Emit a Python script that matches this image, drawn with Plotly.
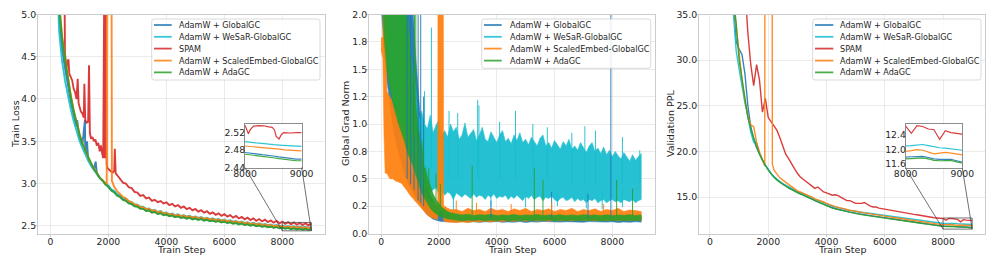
import plotly.graph_objects as go

# ---------------------------------------------------------------- data
series_names = ["AdamW + GlobalGC", "AdamW + WeSaR-GlobalGC", "SPAM",
                "AdamW + ScaledEmbed-GlobalGC", "AdamW + AdaGC"]
colors = ["#1f77b4", "#17becf", "#d62728", "#ff7f0e", "#2ca02c"]
x_tick_vals = [0, 2000, 4000, 6000, 8000]
loss_tick_vals = [2.5, 3.0, 3.5, 4.0, 4.5, 5.0]
gn_tick_vals = [0.0, 0.25, 0.5, 0.75, 1.0, 1.25, 1.5, 1.75, 2.0]
gn_tick_text = ["0.0", "0.2", "0.5", "0.8", "1.0", "1.2", "1.5", "1.8", "2.0"]
ppl_tick_vals = [15.0, 20.0, 25.0, 30.0, 35.0]
loss_inset_ticks = [2.44, 2.48, 2.52]
ppl_inset_ticks = [11.6, 12.0, 12.4]
inset_x_ticks = [8000, 9000]

# ---- train loss
loss_steps = list(range(0, 9100, 100))
green_loss = [10.9, 8.0, 6.2, 5.1, 4.72, 4.48, 4.24, 4.03, 3.86, 3.70,
              3.58, 3.47, 3.39, 3.30, 3.24, 3.17, 3.125, 3.065, 3.035, 2.985,
              2.965, 2.915, 2.895, 2.855, 2.84, 2.805, 2.795, 2.765, 2.755, 2.73,
              2.725, 2.70, 2.70, 2.675, 2.68, 2.655, 2.662, 2.638, 2.648, 2.625,
              2.632, 2.612, 2.62, 2.60, 2.61, 2.592, 2.60, 2.584, 2.593, 2.575,
              2.585, 2.568, 2.578, 2.56, 2.57, 2.553, 2.562, 2.546, 2.555, 2.538,
              2.548, 2.531, 2.54, 2.524, 2.532, 2.516, 2.525, 2.508, 2.517, 2.50,
              2.51, 2.494, 2.503, 2.487, 2.496, 2.481, 2.489, 2.475, 2.483, 2.469,
              2.477, 2.464, 2.472, 2.459, 2.468, 2.456, 2.465, 2.452, 2.461, 2.449,
              2.458]
cyan_loss = [10.9, 7.6, 5.7, 4.8, 4.45, 4.22, 4.04, 3.88, 3.74, 3.62,
             3.51, 3.42, 3.34, 3.27, 3.21, 3.155, 3.11, 3.065, 3.035, 2.995,
             2.975, 2.93, 2.91, 2.875, 2.86, 2.83, 2.82, 2.79, 2.78, 2.755,
             2.75, 2.725, 2.725, 2.70, 2.705, 2.68, 2.687, 2.663, 2.673, 2.65,
             2.657, 2.637, 2.645, 2.625, 2.635, 2.617, 2.625, 2.609, 2.618, 2.60,
             2.61, 2.593, 2.603, 2.585, 2.595, 2.578, 2.587, 2.571, 2.58, 2.563,
             2.573, 2.556, 2.565, 2.549, 2.557, 2.541, 2.55, 2.533, 2.542, 2.525,
             2.535, 2.519, 2.528, 2.512, 2.521, 2.506, 2.514, 2.50, 2.508, 2.494,
             2.502, 2.49, 2.498, 2.486, 2.494, 2.483, 2.491, 2.479, 2.488, 2.477,
             2.485]
blue_loss_steps = [0, 100, 200, 300, 400, 500, 600, 700, 800, 900, 920, 1000, 1100,
                   1190, 1200, 1260, 1300, 1400, 1500, 1560, 1600] + list(range(1700, 9100, 100))
blue_loss = [10.9, 7.8, 5.9, 4.95, 4.6, 4.37, 4.15, 3.97, 3.81, 3.67, 3.75, 3.55, 3.45,
             3.75, 3.37, 3.5, 3.29, 3.22, 3.165, 3.26, 3.12,
             3.07, 3.035, 2.99, 2.965, 2.92, 2.9, 2.86, 2.845, 2.81, 2.80,
             2.77, 2.76, 2.735, 2.73, 2.705, 2.705, 2.68, 2.685, 2.66, 2.667,
             2.643, 2.653, 2.63, 2.637, 2.617, 2.625, 2.605, 2.615, 2.597, 2.605,
             2.589, 2.598, 2.58, 2.59, 2.573, 2.583, 2.565, 2.575, 2.558, 2.567,
             2.551, 2.56, 2.543, 2.553, 2.536, 2.545, 2.529, 2.537, 2.521, 2.53,
             2.513, 2.522, 2.505, 2.515, 2.499, 2.508, 2.492, 2.501, 2.486, 2.494,
             2.48, 2.488, 2.474, 2.482, 2.469, 2.477, 2.464, 2.473, 2.461, 2.47,
             2.457, 2.466, 2.454, 2.463]
orange_loss_steps = list(range(0, 2000, 100)) + [1940, 1960, 2100, 2120] + list(range(2200, 9100, 100))
orange_loss = [10.9, 8.1, 6.3, 5.15, 4.75, 4.5, 4.26, 4.05, 3.87, 3.71,
               3.59, 3.48, 3.39, 3.31, 3.24, 3.175, 3.125, 3.07, 3.04, 2.995,
               2.985, 7.0, 7.0, 3.03,
               2.96, 2.91, 2.88, 2.84, 2.825, 2.79, 2.778, 2.75,
               2.745, 2.72, 2.72, 2.695, 2.70, 2.675, 2.682, 2.658, 2.668, 2.645,
               2.652, 2.632, 2.64, 2.62, 2.63, 2.612, 2.62, 2.604, 2.613, 2.595,
               2.605, 2.588, 2.598, 2.58, 2.59, 2.573, 2.582, 2.566, 2.575, 2.558,
               2.568, 2.551, 2.56, 2.544, 2.552, 2.536, 2.545, 2.528, 2.537, 2.52,
               2.53, 2.514, 2.523, 2.507, 2.516, 2.501, 2.509, 2.495, 2.503, 2.489,
               2.497, 2.484, 2.492, 2.479, 2.488, 2.476, 2.485, 2.472, 2.481, 2.47,
               2.478]
red_loss_steps = [0, 100, 200, 300, 400, 430, 470, 500, 550, 600, 620, 650, 700, 750, 800,
                  850, 900, 940, 970, 1000, 1050, 1100, 1150, 1170, 1200, 1250, 1300, 1330,
                  1360, 1400, 1450, 1500, 1550, 1600, 1650, 1700, 1740, 1780, 1820, 1860,
                  1880, 1910, 1940, 1970, 2000, 2050, 2100, 2150, 2200, 2220, 2250, 2300] \
                 + list(range(2400, 9100, 100))
red_loss = [10.9, 8.5, 7.0, 6.0, 5.4, 5.6, 6.2, 4.55, 4.37, 4.45, 4.47, 4.3, 4.25, 4.22, 4.12,
            4.08, 4.0, 4.24, 3.95, 3.9, 3.85, 3.83, 3.78, 4.18, 3.75, 3.72, 3.73, 4.40,
            3.6, 3.53, 3.55, 3.5, 3.52, 3.45, 3.48, 3.38, 3.45, 3.36, 3.3, 5.6,
            3.3, 5.6, 3.22, 3.18, 3.17, 3.15, 3.14, 3.13, 3.15, 3.41, 3.12, 3.10,
            3.06, 3.01, 3.0, 2.955, 2.945, 2.90,
            2.892, 2.853, 2.862, 2.823, 2.832, 2.793, 2.807, 2.778, 2.792, 2.763,
            2.777, 2.745, 2.76, 2.728, 2.744, 2.712, 2.728, 2.696, 2.712, 2.681,
            2.698, 2.667, 2.684, 2.654, 2.672, 2.641, 2.659, 2.629, 2.647, 2.618,
            2.637, 2.607, 2.626, 2.596, 2.615, 2.586, 2.605, 2.576, 2.595, 2.567,
            2.587, 2.559, 2.579, 2.551, 2.571, 2.543, 2.563, 2.536, 2.556, 2.528,
            2.549, 2.522, 2.543, 2.516, 2.538, 2.512, 2.534, 2.508, 2.53, 2.505,
            2.528]

# smoothed curves shown in the loss inset
inset_steps = [8000, 8100, 8200, 8300, 8400, 8500, 8600, 8700, 8800, 8900, 9000]
inset_blue_loss = [2.474, 2.473, 2.471, 2.469, 2.468, 2.466, 2.464, 2.462, 2.461, 2.459, 2.459]
inset_cyan_loss = [2.499, 2.497, 2.496, 2.495, 2.493, 2.492, 2.491, 2.49, 2.489, 2.488, 2.488]
inset_orange_loss = [2.489, 2.488, 2.487, 2.486, 2.485, 2.483, 2.482, 2.48, 2.479, 2.478, 2.478]
inset_green_loss = [2.470, 2.469, 2.467, 2.465, 2.464, 2.462, 2.46, 2.458, 2.457, 2.455, 2.455]
inset_red_steps = [8000, 8030, 8060, 8090, 8150, 8240, 8330, 8420, 8480, 8520, 8550, 8600,
                   8640, 8680, 8800, 8920, 9000]
inset_red_loss = [2.537, 2.526, 2.517, 2.526, 2.535, 2.536, 2.5356, 2.533, 2.532, 2.526,
                  2.511, 2.505, 2.515, 2.52, 2.519, 2.52, 2.52]

# ---- global grad norm (noise envelopes: lower / upper) + isolated spikes
gn_steps = list(range(0, 2500, 100)) + list(range(2600, 9200, 200))
blue_gn_lo = [2.1, 1.7, 1.4, 1.2, 1.0, 0.85, 0.75, 0.65, 0.55, 0.48, 0.42, 0.38, 0.33,
              0.28, 0.24, 0.2, 0.17, 0.15, 0.13, 0.12, 0.115, 0.11, 0.108, 0.105, 0.105,
              0.104, 0.11, 0.103, 0.108, 0.102, 0.107, 0.104, 0.11, 0.102, 0.106, 0.103,
              0.109, 0.101, 0.107, 0.104, 0.11, 0.102, 0.106, 0.104, 0.108, 0.101, 0.105,
              0.103, 0.109, 0.102, 0.106, 0.104, 0.108, 0.101, 0.106, 0.103, 0.107, 0.104]
blue_gn_hi = [3.0, 3.0, 3.0, 3.0, 3.0, 3.0, 3.0, 3.0, 2.6, 2.4, 2.2, 2.0, 1.6,
              1.2, 0.9, 0.6, 0.45, 0.35, 0.3, 0.25, 0.22, 0.2, 0.18, 0.17, 0.16,
              0.15, 0.145, 0.15, 0.148, 0.152, 0.146, 0.15, 0.147, 0.151, 0.145, 0.15,
              0.148, 0.152, 0.146, 0.15, 0.147, 0.151, 0.145, 0.15, 0.148, 0.152, 0.146,
              0.15, 0.147, 0.151, 0.145, 0.15, 0.148, 0.152, 0.146, 0.15, 0.147, 0.15]
green_gn_lo = [2.5, 1.8, 1.5, 1.35, 1.2, 1.1, 1.0, 0.92, 0.85, 0.75, 0.68, 0.62, 0.55,
               0.45, 0.37, 0.32, 0.27, 0.23, 0.2, 0.18, 0.16, 0.15, 0.14, 0.135, 0.13,
               0.12, 0.115, 0.122, 0.118, 0.124, 0.116, 0.121, 0.117, 0.123, 0.115, 0.12,
               0.117, 0.122, 0.116, 0.121, 0.118, 0.123, 0.115, 0.12, 0.117, 0.122, 0.116,
               0.121, 0.118, 0.122, 0.115, 0.12, 0.117, 0.122, 0.116, 0.12, 0.118, 0.121]
green_gn_hi = [3.0, 3.0, 3.0, 3.0, 3.0, 3.0, 3.0, 2.6, 2.3, 2.0, 1.7, 1.4, 1.15,
               0.95, 0.78, 0.64, 0.52, 0.43, 0.36, 0.31, 0.27, 0.24, 0.22, 0.2, 0.19,
               0.18, 0.17, 0.175, 0.165, 0.172, 0.168, 0.175, 0.165, 0.17, 0.166, 0.174,
               0.164, 0.17, 0.167, 0.173, 0.165, 0.17, 0.166, 0.172, 0.164, 0.17, 0.165,
               0.172, 0.166, 0.17, 0.164, 0.171, 0.165, 0.17, 0.166, 0.172, 0.165, 0.17]
cyan_gn_steps = list(range(0, 9100, 100))
cyan_gn_lo = [2.2, 1.9, 1.6, 1.4, 1.25, 1.1, 1.0, 0.9, 0.8, 0.7, 0.62, 0.55,
              0.5, 0.45, 0.43, 0.41, 0.44, 0.38, 0.4, 0.42, 0.36, 0.39,
              0.35, 0.38, 0.36, 0.31, 0.37, 0.35, 0.33, 0.36, 0.34, 0.32,
              0.36, 0.33, 0.35, 0.34, 0.31, 0.35, 0.33, 0.36, 0.32, 0.34,
              0.33, 0.35, 0.31, 0.34, 0.32, 0.35, 0.33, 0.3, 0.34, 0.32,
              0.35, 0.31, 0.33, 0.34, 0.3, 0.33, 0.32, 0.34, 0.31, 0.29,
              0.32, 0.33, 0.3, 0.31, 0.33, 0.29, 0.32, 0.3, 0.31, 0.28,
              0.31, 0.3, 0.32, 0.28, 0.3, 0.31, 0.28, 0.3, 0.31, 0.29,
              0.3, 0.28, 0.31, 0.3, 0.29, 0.31, 0.28, 0.3, 0.31]
cyan_gn_hi = [3.0, 3.0, 3.0, 3.0, 3.0, 3.0, 3.0, 3.0, 2.5, 2.0, 1.7, 1.45,
              1.35, 1.02, 1.12, 1.0, 0.96, 1.08, 0.92, 0.99, 1.04, 0.9,
              0.94, 0.88, 1.0, 0.93, 0.97, 0.86, 0.9, 1.01, 0.88, 0.92,
              0.95, 0.85, 0.9, 0.97, 0.86, 0.84, 0.93, 0.88, 0.83, 0.9,
              0.94, 0.84, 0.87, 0.82, 0.9, 0.85, 0.92, 0.83, 0.86, 0.81,
              0.88, 0.84, 0.8, 0.87, 0.9, 0.8, 0.83, 0.78, 0.85, 0.81,
              0.77, 0.84, 0.8, 0.86, 0.77, 0.8, 0.76, 0.83, 0.79, 0.74,
              0.8, 0.83, 0.75, 0.78, 0.73, 0.79, 0.72, 0.76, 0.7, 0.75,
              0.71, 0.68, 0.74, 0.7, 0.66, 0.72, 0.67, 0.7, 0.73]
orange_gn_steps = [0, 60, 100, 140] + list(range(200, 2000, 100)) \
                  + [1960, 1970, 2150, 2160, 2200, 2300, 2400] + list(range(2600, 9200, 200))
orange_gn_lo = [1.68, 1.6, 0.9, 0.55, 0.55, 0.5, 0.5, 0.48, 0.47, 0.46, 0.43, 0.39, 0.35,
                0.32, 0.28, 0.25, 0.22, 0.2, 0.17, 0.15, 0.14, 0.13,
                0.13, 0.2, 0.2, 0.12, 0.11, 0.105, 0.1,
                0.1, 0.105, 0.1, 0.11, 0.104, 0.112, 0.106, 0.115, 0.108, 0.116, 0.11,
                0.118, 0.112, 0.12, 0.113, 0.119, 0.112, 0.12, 0.114, 0.121, 0.115, 0.122,
                0.116, 0.121, 0.115, 0.122, 0.117, 0.123, 0.116, 0.122, 0.117, 0.123, 0.118]
orange_gn_hi = [1.78, 1.8, 3.0, 3.0, 1.3, 1.25, 1.2, 1.12, 1.05, 1.0, 0.92, 0.85, 0.76,
                0.68, 0.58, 0.5, 0.44, 0.38, 0.33, 0.3, 0.28, 0.26,
                0.26, 3.0, 3.0, 0.25, 0.25, 0.23, 0.22,
                0.22, 0.2, 0.23, 0.21, 0.22, 0.2, 0.23, 0.21, 0.22, 0.2, 0.225,
                0.21, 0.23, 0.2, 0.22, 0.21, 0.225, 0.2, 0.22, 0.21, 0.23, 0.2,
                0.22, 0.21, 0.225, 0.2, 0.22, 0.21, 0.23, 0.2, 0.215, 0.21, 0.2]
blue_spike_steps = [900, 1020, 1140, 1280, 1370, 1470, 3800, 5900, 7160, 7950]
blue_spike_lo = [0.5, 0.45, 0.4, 0.3, 0.28, 0.25, 0.14, 0.14, 0.14, 0.15]
blue_spike_hi = [2.1, 2.1, 2.1, 2.1, 2.1, 1.25, 0.3, 0.38, 0.36, 2.1]
cyan_spike_steps = [1500, 1740, 2350, 2650, 3340, 3385, 4100, 4650, 5250, 5750, 6600, 7050,
                    7420, 8350, 8950, 2500, 3800, 5000, 6100, 7100, 7650, 8350]
cyan_spike_lo = [0.6, 0.6, 0.5, 0.5, 0.5, 0.5, 0.5, 0.5, 0.5, 0.5, 0.45, 0.45,
                 0.45, 0.45, 0.45, 0.22, 0.25, 0.24, 0.25, 0.23, 0.22, 0.24]
cyan_spike_hi = [1.3, 1.88, 1.12, 1.1, 1.22, 1.17, 1.02, 1.12, 1.0, 0.97, 0.92, 0.98,
                 0.94, 0.88, 0.76, 0.4, 0.4, 0.4, 0.4, 0.4, 0.4, 0.4]
orange_spike_steps = [2600, 3300, 4500, 5900, 7700]
orange_spike_lo = [0.18, 0.18, 0.18, 0.18, 0.18]
orange_spike_hi = [0.3, 0.28, 0.27, 0.28, 0.27]
green_spike_steps = [1150, 1200, 1450, 1650, 1900, 2050, 3150, 5300, 5600, 8150, 8700]
green_spike_lo = [0.9, 0.9, 0.5, 0.4, 0.3, 0.25, 0.16, 0.16, 0.16, 0.16, 0.16]
green_spike_hi = [2.1, 2.1, 0.85, 0.6, 0.55, 0.45, 0.62, 0.6, 0.49, 0.49, 0.41]

# ---- validation perplexity
val_steps = list(range(100, 9100, 100))
green_ppl = [95, 70, 58, 50, 45, 41, 38.5, 37.0, 34.0, 30.0,
             27.8, 25.4, 23.7, 22.5, 21.4, 20.5, 19.7, 19.0, 18.45, 17.95,
             17.5, 17.15, 16.85, 16.6, 16.38, 16.18, 15.98, 15.8, 15.62, 15.47,
             15.33, 15.2, 15.05, 14.9, 14.75, 14.55, 14.45, 14.32, 14.2, 14.05,
             13.92, 13.78, 13.7, 13.62, 13.52, 13.45, 13.38, 13.3, 13.25, 13.18,
             13.12, 13.07, 13.02, 12.97, 12.92, 12.87, 12.82, 12.78, 12.73, 12.68,
             12.63, 12.58, 12.54, 12.49, 12.45, 12.4, 12.36, 12.31, 12.27, 12.22,
             12.18, 12.13, 12.09, 12.05, 12.0, 11.96, 11.9, 11.85, 11.79, 11.74,
             11.75, 11.77, 11.77, 11.74, 11.70, 11.69, 11.70, 11.70, 11.66, 11.62]
blue_ppl = [95, 70, 58, 50, 45, 41, 38.5, 36.8, 32.0, 31.2,
            30.6, 28.5, 25.0, 22.7, 21.3, 20.4, 19.65, 19.05, 18.5, 18.0,
            17.55, 17.2, 16.9, 16.64, 16.42, 16.22, 16.02, 15.84, 15.66, 15.5,
            15.36, 15.23, 15.08, 14.93, 14.78, 14.6, 14.49, 14.36, 14.24, 14.09,
            13.96, 13.82, 13.74, 13.66, 13.56, 13.49, 13.42, 13.34, 13.29, 13.22,
            13.16, 13.11, 13.06, 13.01, 12.96, 12.91, 12.86, 12.82, 12.77, 12.72,
            12.67, 12.62, 12.58, 12.53, 12.49, 12.44, 12.4, 12.35, 12.31, 12.26,
            12.22, 12.17, 12.13, 12.09, 12.04, 12.0, 11.94, 11.89, 11.84, 11.79,
            11.8, 11.81, 11.81, 11.78, 11.74, 11.73, 11.74, 11.73, 11.69, 11.65]
cyan_ppl = [95, 68, 56, 48, 43, 39.5, 37.0, 35.2, 31.0, 29.0,
            27.0, 25.3, 23.9, 22.1, 21.0, 20.9, 19.8, 19.0, 18.5, 18.0,
            17.56, 17.22, 16.93, 16.69, 16.48, 16.29, 16.1, 15.93, 15.76, 15.62,
            15.48, 15.36, 15.21, 15.07, 14.92, 14.73, 14.64, 14.51, 14.4, 14.25,
            14.12, 13.99, 13.91, 13.83, 13.74, 13.68, 13.62, 13.54, 13.5, 13.43,
            13.38, 13.33, 13.28, 13.24, 13.2, 13.15, 13.11, 13.07, 13.02, 12.98,
            12.93, 12.88, 12.85, 12.8, 12.76, 12.72, 12.68, 12.63, 12.59, 12.55,
            12.51, 12.47, 12.43, 12.39, 12.35, 12.31, 12.26, 12.21, 12.15, 12.1,
            12.11, 12.13, 12.14, 12.11, 12.07, 12.05, 12.04, 12.02, 12.0, 11.98]
orange_ppl_steps = list(range(100, 1900, 100)) + [1880, 1890, 2130, 2140] + list(range(2200, 9100, 100))
orange_ppl = [95, 70, 58, 50, 45, 41, 38.5, 36.6, 33.6, 30.2,
              27.9, 25.6, 23.9, 22.9, 22.7, 21.0, 19.9, 19.1,
              18.4, 70, 70, 18.6,
              17.95, 17.5, 17.1, 16.85, 16.62, 16.35, 16.1, 15.88,
              15.68, 15.55, 15.42, 15.27, 15.12, 14.98, 14.8, 14.7, 14.57, 14.45,
              14.3, 14.17, 14.03, 13.95, 13.87, 13.77, 13.7, 13.63, 13.55, 13.5,
              13.42, 13.36, 13.31, 13.26, 13.21, 13.15, 13.1, 13.05, 13.0, 12.95,
              12.9, 12.85, 12.8, 12.76, 12.71, 12.67, 12.62, 12.58, 12.53, 12.49,
              12.44, 12.4, 12.35, 12.31, 12.27, 12.22, 12.18, 12.12, 12.07, 12.01,
              11.95, 11.97, 12.0, 11.98, 11.93, 11.88, 11.9, 11.92, 11.9, 11.87,
              11.85]
red_ppl = [140, 110, 95, 85, 77, 70, 64, 58, 52, 47,
           42.5, 38.0, 33.0, 29.5, 27.2, 29.5, 27.8, 24.3, 25.8, 23.7,
           23.2, 22.8, 22.3, 21.5, 20.6, 19.7, 19.2, 18.6, 18.1, 17.6,
           17.2, 16.95, 16.7, 16.5, 16.15, 15.95, 16.1, 15.8, 15.55, 15.45,
           15.3, 15.2, 15.25, 15.15, 14.95, 14.75, 14.6, 14.6, 14.45, 14.3,
           14.3, 14.3, 14.4, 14.15, 14.0, 13.9, 13.9, 13.78, 13.72, 13.65,
           13.6, 13.5, 13.52, 13.45, 13.38, 13.32, 13.27, 13.2, 13.14, 13.1,
           13.05, 12.98, 12.93, 12.87, 12.83, 12.78, 12.73, 12.7, 12.64, 12.65,
           12.45, 12.66, 12.64, 12.57, 12.55, 12.28, 12.52, 12.47, 12.44, 12.43]

# ---------------------------------------------------------------- layout geometry
# page body has an 8px margin, so the figure is placed 8px in from the window corner
OFF = 8
W, H = 996 - OFF, 266 - OFF
FONT = "DejaVu Sans"
TXT = "#262626"
FRAME = "#cccccc"
GRID = "#e6e6e6"


def px(x):
    return (x - OFF) / W


def py(y):
    return 1 - (y - OFF) / H


Y_DOM = [py(233.5), py(14.5)]
X_DOMS = [[px(38), px(324.5)], [px(369), px(654.5)], [px(699), px(985)]]
X_RANGES = [[-430, 9455], [-420, 9460], [-377, 9440]]
Y_RANGES = [[2.408, 5.0], [0.0, 2.0], [11.0, 35.0]]
INSET_DOMS = {
    "loss": ([px(245), px(301.7)], [py(167.5), py(124.3)]),
    "ppl": ([px(905.7), px(962.3)], [py(168.3), py(124.3)]),
}
INSET_YR = {"loss": [2.4395, 2.539], "ppl": [11.48, 12.70]}
INSET_XR = [8000, 9000]

tickfont = dict(family=FONT, size=9.3, color=TXT)

fig = go.Figure()


def line(x, y, color, ax, width=1.4, opacity=0.9):
    fig.add_trace(go.Scatter(x=x, y=y, mode="lines", xaxis=ax[0], yaxis=ax[1],
                             line=dict(color=color, width=width), opacity=opacity,
                             showlegend=False, hoverinfo="skip"))


def band(x, lo, hi, color, ax):
    fig.add_trace(go.Scatter(x=list(x) + list(x)[::-1], y=list(hi) + list(lo)[::-1],
                             mode="lines", fill="toself", fillcolor=color,
                             line=dict(color=color, width=0.6), opacity=0.92,
                             xaxis=ax[0], yaxis=ax[1], showlegend=False, hoverinfo="skip"))


def spikes(steps, lo, hi, color, ax):
    xs, ys = [], []
    for s, a, b in zip(steps, lo, hi):
        xs += [s, s, None]
        ys += [a, b, None]
    fig.add_trace(go.Scatter(x=xs, y=ys, mode="lines", line=dict(color=color, width=1.0),
                             opacity=0.9, xaxis=ax[0], yaxis=ax[1], showlegend=False,
                             hoverinfo="skip"))


# ---- panel 1: train loss (noisy raw curves -> slightly thicker strokes)
A1 = ("x", "y")
LW = 1.9
line(blue_loss_steps, blue_loss, colors[0], A1, width=LW)
line(loss_steps, cyan_loss, colors[1], A1, width=LW)
line(red_loss_steps, red_loss, colors[2], A1, width=LW)
line(orange_loss_steps, orange_loss, colors[3], A1, width=LW)
line(loss_steps, green_loss, colors[4], A1, width=LW)

# ---- panel 2: grad norm
A2 = ("x2", "y2")
band(gn_steps, blue_gn_lo, blue_gn_hi, colors[0], A2)
band(cyan_gn_steps, cyan_gn_lo, cyan_gn_hi, colors[1], A2)
band(orange_gn_steps, orange_gn_lo, orange_gn_hi, colors[3], A2)
band(gn_steps, green_gn_lo, green_gn_hi, colors[4], A2)
spikes(blue_spike_steps, blue_spike_lo, blue_spike_hi, colors[0], A2)
spikes(cyan_spike_steps, cyan_spike_lo, cyan_spike_hi, colors[1], A2)
spikes(orange_spike_steps, orange_spike_lo, orange_spike_hi, colors[3], A2)
spikes(green_spike_steps, green_spike_lo, green_spike_hi, colors[4], A2)

# ---- panel 3: validation ppl
A3 = ("x3", "y3")
line(val_steps, blue_ppl, colors[0], A3)
line(val_steps, cyan_ppl, colors[1], A3)
line(val_steps, red_ppl, colors[2], A3)
line(orange_ppl_steps, orange_ppl, colors[3], A3)
line(val_steps, green_ppl, colors[4], A3)

# ---- insets
A4 = ("x4", "y4")
line(inset_steps, inset_blue_loss, colors[0], A4, width=1.2)
line(inset_steps, inset_cyan_loss, colors[1], A4, width=1.2)
line(inset_red_steps, inset_red_loss, colors[2], A4, width=1.2)
line(inset_steps, inset_orange_loss, colors[3], A4, width=1.2)
line(inset_steps, inset_green_loss, colors[4], A4, width=1.2)
A5 = ("x5", "y5")
line(val_steps, blue_ppl, colors[0], A5, width=1.2)
line(val_steps, cyan_ppl, colors[1], A5, width=1.2)
line(val_steps, red_ppl, colors[2], A5, width=1.2)
line(orange_ppl_steps, orange_ppl, colors[3], A5, width=1.2)
line(val_steps, green_ppl, colors[4], A5, width=1.2)

COMMON = dict(zeroline=False, fixedrange=True, automargin=False, tickfont=tickfont,
              ticklabelstandoff=-3)


def main_x(i):
    return dict(domain=X_DOMS[i], range=X_RANGES[i], anchor=["y", "y2", "y3"][i],
                tickvals=x_tick_vals, showgrid=True, gridcolor=GRID, gridwidth=0.8,
                showline=True, mirror=True, linecolor=FRAME, linewidth=1,
                ticks="outside", ticklen=2, tickcolor=FRAME, **COMMON)


def main_y(i, **kw):
    d = dict(domain=Y_DOM, range=Y_RANGES[i], anchor=["x", "x2", "x3"][i],
             showgrid=True, gridcolor=GRID, gridwidth=0.8,
             showline=True, mirror=True, linecolor=FRAME, linewidth=1,
             ticks="outside", ticklen=2, tickcolor=FRAME, **COMMON)
    d.update(kw)
    return d


def inset_axes(key, yticks, fmt, anchor):
    xd, yd = INSET_DOMS[key]
    xa = dict(domain=xd, range=INSET_XR, anchor=anchor[1], tickvals=inset_x_ticks,
              showgrid=False, showline=True, mirror=True, linecolor="#8c8c8c", linewidth=1,
              ticks="", **COMMON)
    ya = dict(domain=yd, range=INSET_YR[key], anchor=anchor[0], tickvals=yticks,
              tickformat=fmt, showgrid=False, showline=True, mirror=True,
              linecolor="#8c8c8c", linewidth=1, ticks="", **COMMON)
    return xa, ya


x4, y4 = inset_axes("loss", loss_inset_ticks, ".2f", ("x4", "y4"))
x5, y5 = inset_axes("ppl", ppl_inset_ticks, ".1f", ("x5", "y5"))

fig.update_layout(
    template="none",
    width=W, height=H, margin=dict(l=0, r=0, t=0, b=0, pad=0, autoexpand=False),
    paper_bgcolor="white", plot_bgcolor="white", showlegend=False,
    font=dict(family=FONT, color=TXT),
    xaxis=main_x(0), yaxis=main_y(0, tickvals=loss_tick_vals, tickformat=".1f"),
    xaxis2=main_x(1), yaxis2=main_y(1, tickvals=gn_tick_vals, ticktext=gn_tick_text),
    xaxis3=main_x(2), yaxis3=main_y(2, tickvals=ppl_tick_vals, tickformat=".1f"),
    xaxis4=x4, yaxis4=y4, xaxis5=x5, yaxis5=y5,
)

shapes, annos = [], []

# axis titles
title_font = dict(family=FONT, size=9.5, color=TXT)
for i, (ylab, xpos) in enumerate([("Train Loss", 15), ("Global Grad Norm", 345),
                                  ("Validation PPL", 670)]):
    xc = (X_DOMS[i][0] + X_DOMS[i][1]) / 2
    annos.append(dict(text="Train Step", x=xc, y=py(249.5), xref="paper", yref="paper",
                      xanchor="center", yanchor="middle", showarrow=False, font=title_font))
    annos.append(dict(text=ylab, x=px(xpos), y=(Y_DOM[0] + Y_DOM[1]) / 2, xref="paper",
                      yref="paper", xanchor="center", yanchor="middle", textangle=-90,
                      showarrow=False, font=title_font))


# zoom rectangles + connectors (mark_inset style)
def to_paper(v, rng, dom):
    return dom[0] + (v - rng[0]) / (rng[1] - rng[0]) * (dom[1] - dom[0])


for key, i, xr, yr in [("loss", 0, "x", "y"), ("ppl", 2, "x3", "y3")]:
    ylo, yhi = INSET_YR[key]
    shapes.append(dict(type="rect", xref=xr, yref=yr, x0=INSET_XR[0], x1=INSET_XR[1],
                       y0=ylo, y1=yhi, line=dict(color="#4d4d4d", width=0.8), layer="above"))
    xd, yd = INSET_DOMS[key]
    for corner_x, data_x in [(xd[0], INSET_XR[0]), (xd[1], INSET_XR[1])]:
        shapes.append(dict(type="line", xref="paper", yref="paper",
                           x0=corner_x, y0=yd[0],
                           x1=to_paper(data_x, X_RANGES[i], X_DOMS[i]),
                           y1=to_paper(ylo, Y_RANGES[i], Y_DOM),
                           line=dict(color="#333333", width=0.7), layer="above"))


# legends
def rounded_box(x0, y0, x1, y1, r=2.5):
    X0, X1 = px(x0), px(x1)
    Yt, Yb = py(y0), py(y1)
    rx, ry = r / W, r / H
    path = (f"M {X0 + rx},{Yt} L {X1 - rx},{Yt} Q {X1},{Yt} {X1},{Yt - ry} "
            f"L {X1},{Yb + ry} Q {X1},{Yb} {X1 - rx},{Yb} L {X0 + rx},{Yb} "
            f"Q {X0},{Yb} {X0},{Yb + ry} L {X0},{Yt - ry} Q {X0},{Yt} {X0 + rx},{Yt} Z")
    return dict(type="path", path=path, xref="paper", yref="paper",
                fillcolor="rgba(255,255,255,0.85)", line=dict(color="#d0d0d0", width=0.8),
                layer="above")


legend_rows = [25, 36.8, 48.6, 60.6, 72.4]


def add_legend(box, idxs, lx0, lx1, tx):
    shapes.append(rounded_box(*box))
    for row, k in zip(legend_rows, idxs):
        shapes.append(dict(type="line", xref="paper", yref="paper", x0=px(lx0), x1=px(lx1),
                           y0=py(row), y1=py(row), layer="above",
                           line=dict(color=colors[k], width=1.8), opacity=0.85))
        annos.append(dict(text=series_names[k], x=px(tx), y=py(row), xref="paper",
                          yref="paper", xanchor="left", yanchor="middle", showarrow=False,
                          font=dict(family=FONT, size=8.1, color=TXT)))


add_legend((151.7, 19, 320, 80), [0, 1, 2, 3, 4], 154, 171.7, 176.7)
add_legend((481.7, 19, 650.7, 68.3), [0, 1, 3, 4], 484, 501.7, 507.7)
add_legend((812.7, 19, 981, 80), [0, 1, 2, 3, 4], 815, 833.3, 838.3)

fig.update_layout(shapes=shapes, annotations=annos)
fig.write_html("out.html", config=dict(displayModeBar=False, staticPlot=True))
